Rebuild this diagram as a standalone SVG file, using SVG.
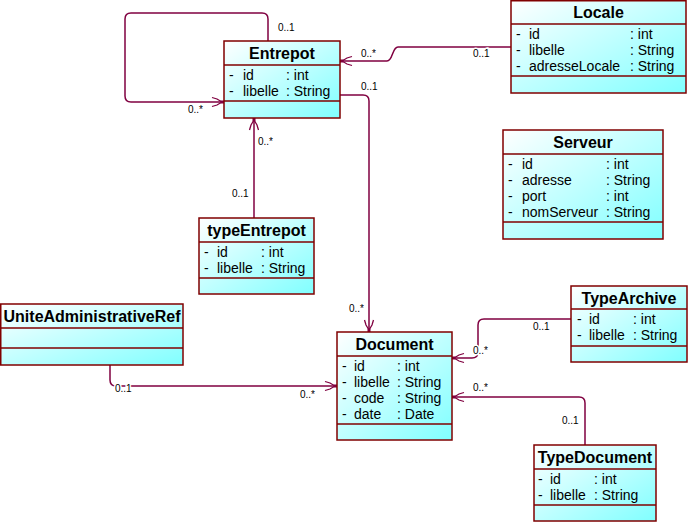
<svg xmlns="http://www.w3.org/2000/svg" width="688" height="523" viewBox="0 0 688 523">
<style>
  .box{stroke:#800000;stroke-width:1.5;fill:url(#g)}
  .sep{stroke:#800000;stroke-width:1.5}
  .title{font-family:"Liberation Sans",Arial,sans-serif;font-weight:bold;font-size:16px;fill:#000;text-anchor:middle}
  .attr{font-family:"Liberation Sans",Arial,sans-serif;font-size:14px;fill:#000}
  .conn{fill:none;stroke:#800040;stroke-width:1.5;marker-end:url(#arr)}
  .lbl{font-family:"Liberation Sans",Arial,sans-serif;font-size:10px;fill:#000;stroke:#fff;stroke-width:3;paint-order:stroke}
</style>
<defs>
  <linearGradient id="g" x1="0" y1="0" x2="1" y2="1">
    <stop offset="0" stop-color="#ffffff"/>
    <stop offset="1" stop-color="#80ffff"/>
  </linearGradient>
  <marker id="arr" viewBox="-14 -7 16 14" refX="0" refY="0" markerWidth="16" markerHeight="14" markerUnits="userSpaceOnUse" orient="auto">
    <path d="M-2,0 L-7,-3 L-12,-4.5 M-2,0 L-7,3 L-12,4.5" fill="none" stroke="#800040" stroke-width="1.3"/>
    <rect x="-3.5" y="-1.5" width="3.5" height="3" fill="#800040"/>
  </marker>
</defs>

<g id="connectors">
  <path class="conn" d="M268,41 V19 Q268,13 262,13 H131 Q125,13 125,19 V96 Q125,102 131,102 H224"/>
  <path class="conn" d="M511,47 H398 C392,47 393,61 387,61 H340"/>
  <path class="conn" d="M340,95 H363 Q369,95 369,101 V332"/>
  <path class="conn" d="M254,218 V118"/>
  <path class="conn" d="M110,365 V380 Q110,386 116,386 H337"/>
  <path class="conn" d="M571,319 H484 Q478,319 478,325 V352 Q478,358 472,358 H452"/>
  <path class="conn" d="M585,445 V403 Q585,397 579,397 H452"/>
</g>

<g id="labels">
  <text class="lbl" x="278" y="31">0..1</text>
  <text class="lbl" x="188" y="113">0..*</text>
  <text class="lbl" x="361" y="57">0..*</text>
  <text class="lbl" x="473" y="57">0..1</text>
  <text class="lbl" x="361" y="90">0..1</text>
  <text class="lbl" x="349" y="312">0..*</text>
  <text class="lbl" x="258" y="145">0..*</text>
  <text class="lbl" x="232" y="197">0..1</text>
  <text class="lbl" x="115" y="392">0..1</text>
  <text class="lbl" x="300" y="398">0..*</text>
  <text class="lbl" x="533" y="330">0..1</text>
  <text class="lbl" x="473" y="354">0..*</text>
  <text class="lbl" x="473" y="391">0..*</text>
  <text class="lbl" x="562" y="424">0..1</text>
</g>

<g id="Entrepot">
  <rect class="box" x="224" y="41" width="116" height="77"/>
  <line class="sep" x1="224" y1="65" x2="340" y2="65"/>
  <line class="sep" x1="224" y1="101" x2="340" y2="101"/>
  <text class="title" x="282" y="59">Entrepot</text>
  <text class="attr" y="80"><tspan x="229">-</tspan><tspan x="243">id</tspan><tspan x="286">: int</tspan></text>
  <text class="attr" y="96"><tspan x="229">-</tspan><tspan x="243">libelle</tspan><tspan x="286">: String</tspan></text>
</g>

<g id="Locale">
  <rect class="box" x="511" y="0.75" width="175" height="92.25"/>
  <line class="sep" x1="511" y1="24" x2="686" y2="24"/>
  <line class="sep" x1="511" y1="76" x2="686" y2="76"/>
  <text class="title" x="598.5" y="18">Locale</text>
  <text class="attr" y="39"><tspan x="516">-</tspan><tspan x="529">id</tspan><tspan x="630">: int</tspan></text>
  <text class="attr" y="55"><tspan x="516">-</tspan><tspan x="529">libelle</tspan><tspan x="630">: String</tspan></text>
  <text class="attr" y="71"><tspan x="516">-</tspan><tspan x="529">adresseLocale</tspan><tspan x="630">: String</tspan></text>
</g>

<g id="Serveur">
  <rect class="box" x="503" y="130" width="160" height="109"/>
  <line class="sep" x1="503" y1="154" x2="663" y2="154"/>
  <line class="sep" x1="503" y1="222" x2="663" y2="222"/>
  <text class="title" x="583" y="148">Serveur</text>
  <text class="attr" y="169"><tspan x="508">-</tspan><tspan x="522">id</tspan><tspan x="606">: int</tspan></text>
  <text class="attr" y="185"><tspan x="508">-</tspan><tspan x="522">adresse</tspan><tspan x="606">: String</tspan></text>
  <text class="attr" y="201"><tspan x="508">-</tspan><tspan x="522">port</tspan><tspan x="606">: int</tspan></text>
  <text class="attr" y="217"><tspan x="508">-</tspan><tspan x="522">nomServeur</tspan><tspan x="606">: String</tspan></text>
</g>

<g id="typeEntrepot">
  <rect class="box" x="199" y="218" width="115" height="76"/>
  <line class="sep" x1="199" y1="242" x2="314" y2="242"/>
  <line class="sep" x1="199" y1="278" x2="314" y2="278"/>
  <text class="title" x="256.5" y="236">typeEntrepot</text>
  <text class="attr" y="257"><tspan x="204">-</tspan><tspan x="217">id</tspan><tspan x="261">: int</tspan></text>
  <text class="attr" y="273"><tspan x="204">-</tspan><tspan x="217">libelle</tspan><tspan x="261">: String</tspan></text>
</g>

<g id="UniteAdministrativeRef">
  <rect class="box" x="0.75" y="304" width="182.25" height="61"/>
  <line class="sep" x1="0" y1="328" x2="183" y2="328"/>
  <line class="sep" x1="0" y1="348" x2="183" y2="348"/>
  <text class="title" x="92" y="322">UniteAdministrativeRef</text>
</g>

<g id="Document">
  <rect class="box" x="337" y="332" width="115" height="108"/>
  <line class="sep" x1="337" y1="356" x2="452" y2="356"/>
  <line class="sep" x1="337" y1="424" x2="452" y2="424"/>
  <text class="title" x="394.5" y="350">Document</text>
  <text class="attr" y="371"><tspan x="342">-</tspan><tspan x="354">id</tspan><tspan x="397">: int</tspan></text>
  <text class="attr" y="387"><tspan x="342">-</tspan><tspan x="354">libelle</tspan><tspan x="397">: String</tspan></text>
  <text class="attr" y="403"><tspan x="342">-</tspan><tspan x="354">code</tspan><tspan x="397">: String</tspan></text>
  <text class="attr" y="419"><tspan x="342">-</tspan><tspan x="354">date</tspan><tspan x="397">: Date</tspan></text>
</g>

<g id="TypeArchive">
  <rect class="box" x="571" y="286" width="116" height="76"/>
  <line class="sep" x1="571" y1="309" x2="687" y2="309"/>
  <line class="sep" x1="571" y1="346" x2="687" y2="346"/>
  <text class="title" x="629" y="304">TypeArchive</text>
  <text class="attr" y="324"><tspan x="577">-</tspan><tspan x="589">id</tspan><tspan x="633">: int</tspan></text>
  <text class="attr" y="340"><tspan x="577">-</tspan><tspan x="589">libelle</tspan><tspan x="633">: String</tspan></text>
</g>

<g id="TypeDocument">
  <rect class="box" x="534" y="445" width="122" height="76"/>
  <line class="sep" x1="534" y1="469" x2="656" y2="469"/>
  <line class="sep" x1="534" y1="505" x2="656" y2="505"/>
  <text class="title" x="595" y="463">TypeDocument</text>
  <text class="attr" y="484"><tspan x="538">-</tspan><tspan x="550">id</tspan><tspan x="594">: int</tspan></text>
  <text class="attr" y="500"><tspan x="538">-</tspan><tspan x="550">libelle</tspan><tspan x="594">: String</tspan></text>
</g>
</svg>
